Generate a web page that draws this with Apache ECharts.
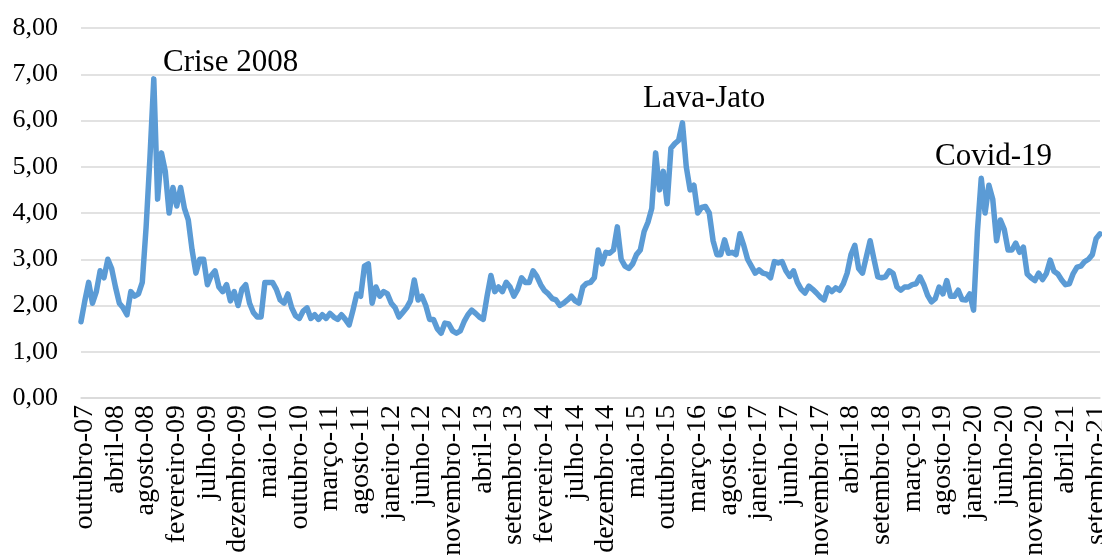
<!DOCTYPE html>
<html lang="pt">

<head>
    <title>Série histórica</title>
    <meta charset="utf-8">
    <style>
        html, body {
            margin: 0;
            padding: 0;
            background-color: white;
        }
    </style>
</head>

<body>
    <div id="chart" style="width: 1102px; height: 555px"></div>
    <script src="https://cdn.jsdelivr.net/npm/echarts@6/dist/echarts.min.js"></script>
    <script>
        // one label every 8 samples, first one at sample 1
        var tickLabels = [
            "outubro-07", "abril-08", "agosto-08", "fevereiro-09", "julho-09", "dezembro-09",
            "maio-10", "outubro-10", "março-11", "agosto-11", "janeiro-12", "junho-12",
            "novembro-12", "abril-13", "setembro-13", "fevereiro-14", "julho-14", "dezembro-14",
            "maio-15", "outubro-15", "março-16", "agosto-16", "janeiro-17", "junho-17",
            "novembro-17", "abril-18", "setembro-18", "março-19", "agosto-19", "janeiro-20",
            "junho-20", "novembro-20", "abril-21", "setembro-21"
        ];

        var values = [
            1.65, 2.1, 2.5, 2.05, 2.3, 2.75, 2.6, 3.0, 2.8, 2.4,
            2.05, 1.95, 1.8, 2.3, 2.2, 2.25, 2.5, 3.7, 5.2, 6.9,
            4.3, 5.3, 4.9, 4.0, 4.55, 4.15, 4.55, 4.1, 3.85, 3.2,
            2.7, 3.0, 3.0, 2.45, 2.65, 2.75, 2.4, 2.3, 2.45, 2.1,
            2.3, 2.0, 2.35, 2.45, 2.05, 1.85, 1.75, 1.75, 2.5, 2.5,
            2.5, 2.35, 2.12, 2.05, 2.25, 1.95, 1.78, 1.72, 1.88, 1.95,
            1.72, 1.8, 1.7, 1.8, 1.72, 1.83, 1.75, 1.7, 1.8, 1.7,
            1.58, 1.9, 2.25, 2.2, 2.85, 2.9, 2.05, 2.4, 2.2, 2.3,
            2.25, 2.05, 1.95, 1.75, 1.85, 1.95, 2.1, 2.55, 2.12, 2.2,
            2.0, 1.7, 1.7, 1.5, 1.4, 1.62, 1.6, 1.45, 1.4, 1.45,
            1.65, 1.8, 1.9, 1.83, 1.75, 1.7, 2.2, 2.65, 2.3, 2.4,
            2.3, 2.5, 2.4, 2.2, 2.35, 2.6, 2.5, 2.5, 2.75, 2.63,
            2.45, 2.32, 2.25, 2.15, 2.12, 2.0, 2.05, 2.12, 2.2, 2.1,
            2.05, 2.4, 2.48, 2.5, 2.6, 3.2, 2.9, 3.15, 3.13, 3.2,
            3.7, 3.0, 2.85, 2.8, 2.9, 3.1, 3.2, 3.6, 3.8, 4.1,
            5.3, 4.5, 4.9, 4.2, 5.4, 5.5, 5.57, 5.95, 5.0, 4.5,
            4.6, 4.0, 4.12, 4.14, 4.0, 3.4, 3.1, 3.1, 3.42, 3.13,
            3.15, 3.1, 3.55, 3.3, 3.0, 2.85, 2.7, 2.77, 2.7, 2.68,
            2.6, 2.95, 2.92, 2.95, 2.75, 2.63, 2.75, 2.5, 2.35, 2.27,
            2.42, 2.35, 2.27, 2.18, 2.12, 2.38, 2.3, 2.38, 2.33, 2.47,
            2.7, 3.1, 3.3, 2.8, 2.7, 3.05, 3.4, 3.0, 2.62, 2.6,
            2.62, 2.75, 2.69, 2.4, 2.33, 2.4, 2.4, 2.45, 2.47, 2.62,
            2.45, 2.22, 2.08, 2.15, 2.4, 2.25, 2.54, 2.2, 2.2, 2.33,
            2.13, 2.12, 2.25, 1.9, 3.6, 4.75, 4.0, 4.6, 4.3, 3.4,
            3.85, 3.65, 3.2, 3.2, 3.35, 3.15, 3.26, 2.68, 2.6, 2.54,
            2.7, 2.56, 2.69, 2.98, 2.74, 2.68, 2.55, 2.45, 2.47, 2.69,
            2.83, 2.85, 2.95, 3.0, 3.1, 3.45, 3.55
        ];

        var annotations = ["Crise 2008", "Lava-Jato", "Covid-19"];

        var step = 8;
        var categories = values.map(function (v, i) {
            return (i - 1) % step === 0 ? (tickLabels[(i - 1) / step] || "") : "";
        });

        var serif = "'Liberation Serif', 'Times New Roman', serif";

        var chart = echarts.init(document.getElementById("chart"));
        chart.setOption({
            animation: false,
            backgroundColor: "#ffffff",
            grid: { left: 81, right: 2, top: 28, bottom: 157, containLabel: false, outerBoundsMode: "none" },
            xAxis: {
                type: "category",
                data: categories,
                boundaryGap: false,
                axisLine: { show: true, lineStyle: { color: "#d9d9d9", width: 1.5 } },
                axisTick: { show: false },
                splitLine: { show: false },
                axisLabel: {
                    interval: function (idx) { return (idx - 1) % step === 0; },
                    rotate: 90,
                    margin: 7,
                    color: "#000000",
                    fontFamily: serif,
                    fontSize: 28
                }
            },
            yAxis: {
                type: "value",
                min: 0,
                max: 8,
                interval: 1,
                axisLine: { show: false },
                axisTick: { show: false },
                splitLine: { lineStyle: { color: "#d9d9d9", width: 1.5 } },
                axisLabel: {
                    margin: 23,
                    color: "#000000",
                    fontFamily: serif,
                    fontSize: 26,
                    formatter: function (v) { return v.toFixed(2).replace(".", ","); }
                }
            },
            series: [{
                type: "line",
                data: values,
                showSymbol: false,
                smooth: false,
                lineStyle: { color: "#5b9bd5", width: 5.5, cap: "round", join: "round" }
            }],
            graphic: [
                { type: "text", left: 163, top: 47, style: { text: annotations[0], font: "31px " + serif, fill: "#000000" } },
                { type: "text", left: 643, top: 83, style: { text: annotations[1], font: "31px " + serif, fill: "#000000" } },
                { type: "text", left: 935, top: 141, style: { text: annotations[2], font: "31px " + serif, fill: "#000000" } }
            ]
        });
    </script>
</body>

</html>
